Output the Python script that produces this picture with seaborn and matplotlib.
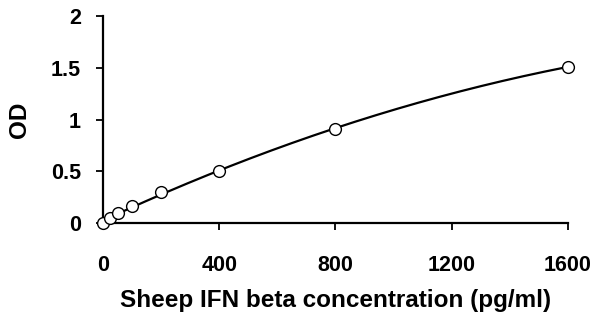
import numpy as np
import pandas as pd
import matplotlib
matplotlib.use("Agg")
import matplotlib.pyplot as plt
import seaborn as sns

# Standard curve readings
conc = [0, 25, 50, 100, 200, 400, 800, 1600]
od = [0.0, 0.05, 0.1, 0.17, 0.3, 0.5, 0.91, 1.51]

x_label = "Sheep IFN beta concentration (pg/ml)"
y_label = "OD"
x_ticks = [0, 400, 800, 1200, 1600]
y_ticks = [0, 0.5, 1, 1.5, 2]

sns.set_style("ticks")
plt.rcParams['font.family'] = ['Liberation Sans', 'DejaVu Sans']
plt.rcParams['font.weight'] = 'bold'
plt.rcParams['text.color'] = 'black'
plt.rcParams['axes.labelcolor'] = 'black'

df = pd.DataFrame({'conc': conc, 'od': od})

# quadratic fit for the trend line
coef = np.polyfit(df['conc'], df['od'], 2)
xs = np.linspace(0, max(conc), 200)
fit = pd.DataFrame({'conc': xs, 'od': np.polyval(coef, xs)})

fig, ax = plt.subplots(figsize=(5.99, 3.18), dpi=100)
sns.lineplot(data=fit, x='conc', y='od', color='black', linewidth=1.6, ax=ax)
sns.scatterplot(data=df, x='conc', y='od', ax=ax, s=72, facecolor='white',
                edgecolor='black', linewidth=1, zorder=3)

ax.set_xlim(0, 1600)
ax.set_ylim(0, 2)
ax.set_xticks(x_ticks)
ax.set_yticks(y_ticks)
ax.set_yticklabels([f"{t:g}" for t in y_ticks])
ax.tick_params(labelsize=15.5, width=1.3, length=5, colors='black')
ax.tick_params(axis='x', pad=18)
ax.tick_params(axis='y', pad=11)
for lab in ax.get_xticklabels() + ax.get_yticklabels():
    lab.set_fontweight('bold')
ax.set_xlabel(x_label, fontsize=17.5, fontweight='bold', labelpad=9, color='black')
ax.set_ylabel(y_label, fontsize=17.5, fontweight='bold', labelpad=14, color='black')
for s in ['left', 'bottom']:
    ax.spines[s].set_linewidth(1.6)
    ax.spines[s].set_color('black')
sns.despine(ax=ax)
for c in ax.collections:
    c.set_clip_on(False)

fig.subplots_adjust(left=0.172, right=0.948, top=0.95, bottom=0.298)
fig.savefig("out.png", dpi=100)
